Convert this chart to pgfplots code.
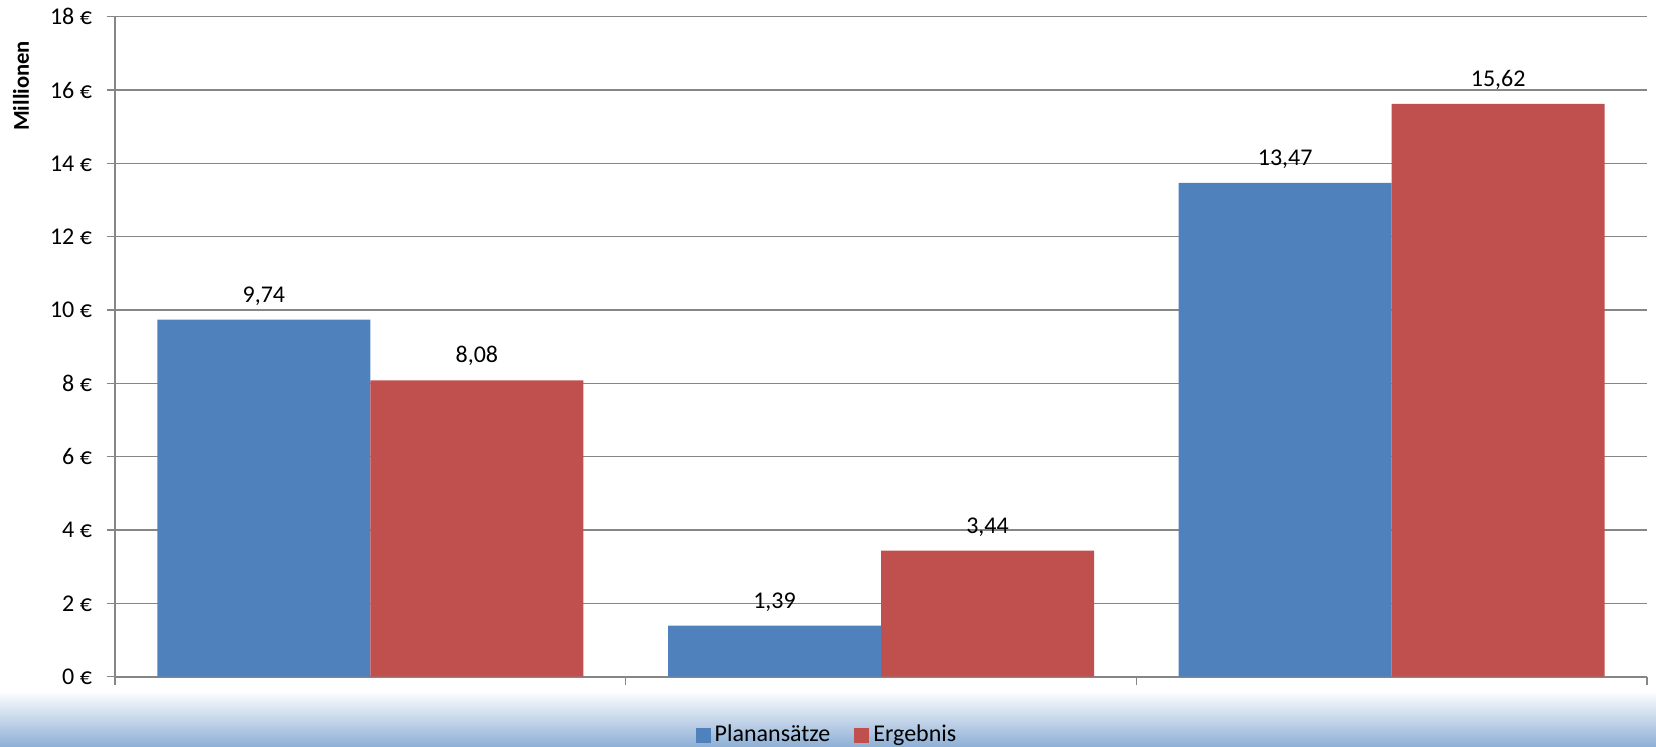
\documentclass[border=0pt]{standalone}
\usepackage{fontspec}
\setmainfont{Carlito}
\usepackage{pgfplots}
\pgfplotsset{compat=1.18}

\definecolor{planblue}{HTML}{4F81BD}
\definecolor{ergred}{HTML}{C0504D}
\definecolor{gridgray}{HTML}{868686}
\definecolor{bandblue}{HTML}{8FB0D6}

\begin{document}
\begin{tikzpicture}
  % page frame and the shaded band behind the legend
  \useasboundingbox (-57.5pt,-34.65pt) rectangle (770.5pt,338.35pt);
  \shade[top color=white, bottom color=bandblue]
    (-57.5pt,-34.65pt) rectangle (770.5pt,-7pt);

  \begin{axis}[
    at={(0pt,0pt)}, anchor=south west,
    scale only axis,
    width=766pt, height=330pt,
    xmin=-0.5, xmax=2.5, ymin=0, ymax=18,
    enlargelimits=false,
    axis x line=bottom, axis y line=left,
    axis line style={-, draw=gridgray, line width=0.8pt},
    ybar=0pt, bar width=106.5pt,
    xtick={-0.5,0.5,1.5,2.5}, xticklabels={},
    ytick={0,2,...,18},
    yticklabels={0 €,2 €,4 €,6 €,8 €,10 €,12 €,14 €,16 €,18 €},
    tick align=outside, major tick length=4pt,
    tick style={draw=gridgray, line width=0.75pt},
    ymajorgrids, grid style={draw=gridgray, line width=0.75pt},
    tick label style={font=\fontsize{12}{14}\selectfont},
    yticklabel style={xshift=-4pt},
    ylabel={\textbf{Millionen}},
    ylabel style={at={(axis description cs:-0.0614,0.895)}, anchor=center,
                  font=\fontsize{11.3}{13}\selectfont},
    /pgf/number format/assume math mode=true,
    nodes near coords={\pgfmathprintnumber[fixed, fixed zerofill, precision=2, use comma]{\pgfplotspointmeta}},
    every node near coord/.append style={font=\fontsize{12}{14}\selectfont,
                  text=black, inner sep=0pt, anchor=south, yshift=7pt},
    legend columns=2,
    legend style={at={(axis description cs:0.4654,-0.0885)}, anchor=center,
                  draw=none, fill=none, font=\fontsize{12}{14}\selectfont,
                  /tikz/every even column/.append style={column sep=10pt}},
  ]
    \addplot[fill=planblue, draw=none,
      legend image code/.code={\fill[planblue] (0pt,-3.75pt) rectangle (7.5pt,3.75pt);}]
      coordinates {(0,9.74) (1,1.39) (2,13.47)};
    \addplot[fill=ergred, draw=none,
      legend image code/.code={\fill[ergred] (0pt,-3.75pt) rectangle (7.5pt,3.75pt);}]
      coordinates {(0,8.08) (1,3.44) (2,15.62)};
    \legend{Planansätze, Ergebnis}
  \end{axis}
\end{tikzpicture}
\end{document}
